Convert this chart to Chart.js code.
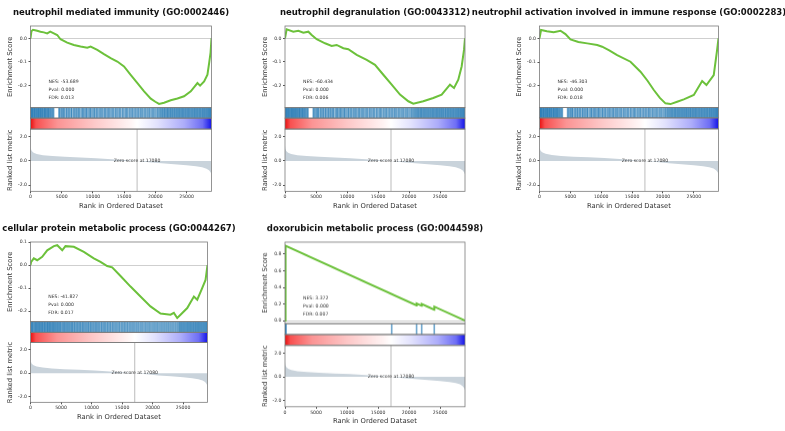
<!DOCTYPE html>
<html>
<head>
<meta charset="utf-8">
<script src="https://cdn.jsdelivr.net/npm/chart.js@4.4.1/dist/chart.umd.min.js"></script>
<style>
html, body { margin: 0; padding: 0; background: #fff; overflow: hidden; width: 785px; height: 431px; }
.panel { position: absolute; }
</style>
</head>
<body>
<div id="p1" class="panel"><canvas></canvas></div>
<div id="p2" class="panel"><canvas></canvas></div>
<div id="p3" class="panel"><canvas></canvas></div>
<div id="p4" class="panel"><canvas></canvas></div>
<div id="p5" class="panel"><canvas></canvas></div>
<script>
// ranked list shared by all five gene sets
const N = 29000;
const zeroScore = 17080;
const xTicks = [0, 5000, 10000, 15000, 20000, 25000];
const rankTicks = [-2, 0, 2];
const rankX = [0, 60, 200, 500, 1000, 2000, 3500, 5500, 8000, 10500, 13000, 15000, 17080, 19000, 21000, 23000, 25000, 26500, 27500, 28200, 28600, 28850, 29000];
const rankY = [1.3, 1.0, 0.82, 0.68, 0.58, 0.48, 0.41, 0.35, 0.29, 0.23, 0.15, 0.08, 0, -0.1, -0.19, -0.27, -0.35, -0.43, -0.52, -0.63, -0.76, -0.92, -1.1];

const titles = [
  'neutrophil mediated immunity (GO:0002446)',
  'neutrophil degranulation (GO:0043312)',
  'neutrophil activation involved in immune response (GO:0002283)',
  'cellular protein metabolic process (GO:0044267)',
  'doxorubicin metabolic process (GO:0044598)'
];
const nesValues = ['-53.689', '-60.434', '-46.303', '-41.827', '3.372'];
const pvalValues = [0.000, 0.000, 0.000, 0.000, 0.000];
const fdrValues = [0.013, 0.006, 0.018, 0.017, 0.007];

// running enrichment scores
const es1X = [0, 150, 400, 1070, 1600, 2140, 2680, 3160, 3740, 4280, 4810, 5880, 6950, 8020, 9100, 9630, 10700, 11770, 12840, 13910, 14980, 16050, 17130, 18200, 19270, 20000, 20600, 21400, 22470, 23540, 24600, 25680, 26750, 27170, 27820, 28350, 28620, 28850, 29000];
const es1Y = [0, 0.03, 0.036, 0.032, 0.028, 0.025, 0.021, 0.028, 0.021, 0.014, -0.004, -0.018, -0.028, -0.035, -0.04, -0.035, -0.049, -0.067, -0.084, -0.098, -0.119, -0.154, -0.189, -0.224, -0.255, -0.268, -0.277, -0.272, -0.262, -0.254, -0.245, -0.224, -0.189, -0.2, -0.182, -0.154, -0.105, -0.06, 0];

const es2X = [0, 270, 1340, 2150, 2960, 3760, 4300, 5100, 6450, 7520, 8320, 9400, 10200, 11550, 13160, 14500, 15840, 17190, 18530, 19870, 20670, 22280, 23890, 25240, 26580, 27230, 27920, 28460, 28840, 29000];
const es2Y = [0, 0.038, 0.028, 0.032, 0.024, 0.028, 0.014, -0.004, -0.021, -0.032, -0.028, -0.042, -0.046, -0.07, -0.091, -0.112, -0.154, -0.196, -0.238, -0.266, -0.276, -0.266, -0.252, -0.238, -0.196, -0.21, -0.175, -0.119, -0.049, 0];

const es3X = [0, 250, 1200, 2300, 3400, 4200, 5020, 6300, 7730, 9350, 10150, 11300, 12580, 14740, 16360, 17500, 18520, 19500, 20410, 21220, 22300, 23380, 25000, 26350, 27050, 28230, 28770, 29000];
const es3Y = [0, 0.035, 0.03, 0.026, 0.032, 0.018, -0.004, -0.015, -0.021, -0.028, -0.035, -0.05, -0.07, -0.098, -0.14, -0.178, -0.217, -0.25, -0.273, -0.276, -0.266, -0.256, -0.238, -0.179, -0.196, -0.154, -0.049, 0];

const es4X = [0, 110, 540, 1100, 1920, 2740, 3830, 4380, 5200, 5730, 7100, 8740, 10370, 11470, 12560, 13380, 14750, 16390, 18020, 19660, 21300, 22940, 23490, 24040, 24580, 25680, 26770, 27320, 28130, 28680, 29000];
const es4Y = [0, 0.014, 0.029, 0.021, 0.036, 0.064, 0.082, 0.086, 0.064, 0.082, 0.079, 0.057, 0.029, 0.014, -0.004, -0.01, -0.047, -0.093, -0.136, -0.179, -0.21, -0.215, -0.207, -0.229, -0.215, -0.186, -0.136, -0.15, -0.1, -0.064, 0];

const es5X = [0, 30, 90, 150, 21200, 21210, 22020, 22030, 24050, 24060, 29000];
const es5Y = [0, 0.3, 0.6, 0.9, 0.182, 0.205, 0.178, 0.2, 0.132, 0.168, 0];

// gene hit positions in the ranked list
const neutrophilHits = [40, 120, 260, 330, 480, 610, 700, 860, 990, 1100, 1250, 1330, 1490, 1620, 1700, 1880, 1960, 2140, 2290, 2350, 2530, 2660, 2820, 2900, 3080, 3220, 3380, 3560, 3700,
  4560, 4700, 4930, 5100, 5290, 5420, 5700, 5850, 6090, 6240, 6500, 6620, 6900, 7050, 7280, 7460, 7700, 7820, 8100, 8340, 8450, 8700, 8910, 9050, 9300, 9520, 9660, 9900, 10150, 10300, 10560, 10720, 10980, 11200, 11380, 11600, 11870, 12000, 12260, 12480, 12650, 12900, 13140, 13300, 13580, 13760, 14000, 14250, 14410, 14700, 14880, 15150, 15360, 15520, 15800, 16010, 16250, 16430, 16700, 16900, 17150, 17340, 17600, 17780, 18000, 18260, 18450, 18700, 18930, 19120, 19380, 19600, 19800, 20050, 20300, 20480, 20700, 20860, 21050, 21200, 21390, 21520, 21700, 21880, 22000, 22170, 22350, 22480, 22660, 22800, 22990, 23120, 23300, 23450, 23610, 23780, 23900, 24080, 24230, 24400, 24520, 24700, 24850, 25000, 25180, 25300, 25470, 25610, 25800, 25920, 26100, 26250, 26380, 26560, 26700, 26850, 27020, 27160, 27300, 27480, 27600, 27770, 27900, 28050, 28200, 28330, 28480, 28600, 28740, 28850, 28960];
const proteinHits = [60, 180, 300, 420, 610, 760, 900, 1010, 1190, 1300, 1480, 1570, 1760, 1900, 2010, 2200, 2330, 2450, 2640, 2780, 2870, 3050, 3190, 3300, 3490, 3620, 3780, 3900, 4080, 4210, 4400, 4520, 4700, 4860, 5010, 5230, 5380, 5560, 5700, 5920, 6050, 6260, 6400, 6610, 6780, 6930, 7150, 7300, 7520, 7690, 7860, 8080, 8220, 8450, 8610, 8800, 9020, 9180, 9400, 9560, 9790, 9950, 10170, 10340, 10560, 10740, 10930, 11150, 11310, 11560, 11720, 11950, 12130, 12320, 12560, 12740, 12980, 13150, 13400, 13570, 13800, 14010, 14220, 14450, 14640, 14900, 15080, 15320, 15510, 15760, 15950, 16200, 16400, 16630, 16850, 17060, 17300, 17520, 17740, 17990, 18210, 18430, 18680, 18900, 19130, 19370, 19580, 19820, 20060, 20280, 20510, 20740, 20950, 21200, 21430, 21650, 21880, 22100, 22330, 22560, 22780, 23010, 23240, 23460, 23700, 23930, 24150, 24360, 24520, 24690, 24850, 25030, 25180, 25360, 25520, 25690, 25830, 26010, 26160, 26320, 26480, 26650, 26790, 26960, 27100, 27260, 27420, 27570, 27720, 27880, 28030, 28190, 28340, 28490, 28640, 28790, 28920];
const doxHits = [30, 90, 150, 17190, 21200, 22020, 24050];

// axis limits and ticks of the enrichment score plots
const esTicksNeg = [-0.2, -0.1, 0];
const esTicks4 = [-0.2, -0.1, 0, 0.1];
const esTicks5 = [0, 0.2, 0.4, 0.6, 0.8];
const esRanges = [[-0.293, 0.052], [-0.293, 0.052], [-0.29, 0.052], [-0.245, 0.1], [-0.036, 0.944]];
const rankRange = [-2.5, 2.63];

Chart.defaults.font.family = '"DejaVu Sans", sans-serif';
Chart.defaults.color = '#333';

const cbStops = [[0, 'rgb(232,16,16)'], [0.03, 'rgb(248,80,80)'], [0.15, 'rgb(251,148,148)'], [0.35, 'rgb(253,200,200)'], [0.55, 'rgb(255,244,244)'], [zeroScore / N, '#ffffff'], [0.7, 'rgb(226,226,253)'], [0.85, 'rgb(172,172,250)'], [0.95, 'rgb(110,110,245)'], [1, 'rgb(20,20,232)']];

function cbGradient(ctx) {
  const chart = ctx.chart;
  const area = chart.chartArea;
  if (!area) return 'rgba(0,0,0,0)';
  const g = chart.ctx.createLinearGradient(area.left, 0, area.right, 0);
  cbStops.forEach(s => g.addColorStop(s[0], s[1]));
  return g;
}

const gseaDecor = {
  id: 'gseaDecor',
  afterDatasetsDraw(chart, args, opts) {
    const c = chart.ctx, a = chart.chartArea, sc = chart.scales;
    c.save();
    // panel title, centred over the plot
    c.fillStyle = '#111';
    c.font = 'bold 8.5px "DejaVu Sans"';
    c.textAlign = 'center';
    c.textBaseline = 'middle';
    c.fillText(opts.title, (a.left + a.right) / 2, 13);
    c.fillStyle = '#333';
    c.font = '4.6px "DejaVu Sans"';
    c.fillText('Zero score at ' + zeroScore, sc.x.getPixelForValue(zeroScore), sc.yRank.getPixelForValue(0));
    const es = sc.yEs, h = es.bottom - es.top, tx = a.left + 0.1 * a.width;
    c.textAlign = 'left';
    c.textBaseline = 'alphabetic';
    c.fillText('NES: ' + opts.nes, tx, es.bottom - 0.3 * h);
    c.fillText('Pval: ' + opts.pval.toFixed(3), tx, es.bottom - 0.2 * h);
    c.fillText('FDR: ' + opts.fdr.toFixed(3), tx, es.bottom - 0.1 * h);
    c.strokeStyle = '#7a7a7a';
    c.lineWidth = 0.8;
    ['yEs', 'yHit', 'yCb', 'yRank'].forEach(id => {
      const s = sc[id];
      c.strokeRect(a.left, s.top, a.width, s.bottom - s.top);
    });
    c.restore();
  }
};

const panels = [
  {id: 'p1', left: 30, right: 211, top: 0, height: 210, weights: [82, 10.5, 11, 62.5], esX: es1X, esY: es1Y, esTicks: esTicksNeg, hits: neutrophilHits},
  {id: 'p2', left: 285, right: 465, top: 0, height: 210, weights: [82, 10.5, 11, 62.5], esX: es2X, esY: es2Y, esTicks: esTicksNeg, hits: neutrophilHits},
  {id: 'p3', left: 539, right: 718, top: 0, height: 210, weights: [81.5, 10.5, 11, 62.5], esX: es3X, esY: es3Y, esTicks: esTicksNeg, hits: neutrophilHits},
  {id: 'p4', left: 30, right: 207, top: 216, height: 205, weights: [80, 10.7, 10.3, 60], esX: es4X, esY: es4Y, esTicks: esTicks4, hits: proteinHits},
  {id: 'p5', left: 285, right: 465, top: 216, height: 208.5, weights: [82, 11, 11, 61.7], esX: es5X, esY: es5Y, esTicks: esTicks5, hits: doxHits}
];

const W = 340;
const tickFont = {size: 4.6};
const axisTitleFont = {size: 6.8};

panels.forEach((p, i) => {
  const div = document.getElementById(p.id);
  const canvasLeft = (p.left + p.right) / 2 - W / 2;
  div.style.left = canvasLeft + 'px';
  div.style.top = p.top + 'px';
  div.style.width = W + 'px';
  div.style.height = p.height + 'px';

  new Chart(div.querySelector('canvas'), {
    type: 'line',
    data: {
      datasets: [
        {type: 'line', data: p.esX.map((x, k) => ({x: x, y: p.esY[k]})), yAxisID: 'yEs',
         borderColor: '#6cc13b', borderWidth: 2, pointRadius: 0, fill: false},
        {type: 'bar', data: p.hits.map(x => ({x: x, y: 1})), yAxisID: 'yHit',
         backgroundColor: 'rgba(22,112,175,0.6)', barThickness: 1, borderWidth: 0},
        {type: 'line', data: [{x: 0, y: 1}, {x: N, y: 1}], yAxisID: 'yCb',
         fill: 'origin', backgroundColor: cbGradient, borderWidth: 0, pointRadius: 0},
        {type: 'line', data: rankX.map((x, k) => ({x: x, y: rankY[k]})), yAxisID: 'yRank',
         fill: 'origin', backgroundColor: '#c9d3db', borderWidth: 0, pointRadius: 0},
        {type: 'line', data: [{x: zeroScore, y: rankRange[0]}, {x: zeroScore, y: rankRange[1]}], yAxisID: 'yRank',
         borderColor: 'rgba(150,150,150,0.8)', borderWidth: 0.8, pointRadius: 0}
      ]
    },
    options: {
      responsive: true,
      maintainAspectRatio: false,
      animation: false,
      layout: {padding: {left: p.left - 30 - canvasLeft, right: canvasLeft + W - p.right, top: 26, bottom: 0}},
      plugins: {
        legend: {display: false},
        tooltip: {enabled: false},
        title: {display: false},
        gseaDecor: {title: titles[i], nes: nesValues[i], pval: pvalValues[i], fdr: fdrValues[i]}
      },
      scales: {
        x: {
          type: 'linear', min: 0, max: N, offset: false,
          afterBuildTicks: s => { s.ticks = xTicks.map(v => ({value: v})); },
          ticks: {font: tickFont, padding: 1, maxRotation: 0, autoSkip: false, callback: v => String(v)},
          grid: {offset: false, drawOnChartArea: false, drawTicks: true, tickLength: 2, tickColor: '#555'},
          border: {display: false},
          title: {display: true, text: 'Rank in Ordered Dataset', font: axisTitleFont, padding: {top: 1, bottom: 0}}
        },
        yEs: {
          type: 'linear', position: 'left', stack: 'gsea', stackWeight: p.weights[0], weight: 4,
          min: esRanges[i][0], max: esRanges[i][1],
          afterBuildTicks: s => { s.ticks = p.esTicks.map(v => ({value: v})); },
          afterFit: s => { s.width = 30; },
          ticks: {font: tickFont, padding: 1.5, autoSkip: false, callback: v => v.toFixed(1)},
          grid: {color: ctx => (ctx.tick && ctx.tick.value === 0) ? '#cfcfcf' : 'rgba(0,0,0,0)',
                 tickColor: '#555', tickLength: 2},
          border: {display: false},
          title: {display: true, text: 'Enrichment Score', font: axisTitleFont, padding: {top: 6, bottom: 0}}
        },
        yHit: {
          type: 'linear', position: 'left', stack: 'gsea', stackWeight: p.weights[1], weight: 3,
          min: 0, max: 1, ticks: {display: false}, grid: {display: false}, border: {display: false}
        },
        yCb: {
          type: 'linear', position: 'left', stack: 'gsea', stackWeight: p.weights[2], weight: 2,
          min: 0, max: 1, ticks: {display: false}, grid: {display: false}, border: {display: false}
        },
        yRank: {
          type: 'linear', position: 'left', stack: 'gsea', stackWeight: p.weights[3], weight: 1,
          min: rankRange[0], max: rankRange[1],
          afterBuildTicks: s => { s.ticks = rankTicks.map(v => ({value: v})); },
          afterFit: s => { s.width = 30; },
          ticks: {font: tickFont, padding: 1.5, autoSkip: false, callback: v => v.toFixed(1)},
          grid: {drawOnChartArea: false, tickColor: '#555', tickLength: 2},
          border: {display: false},
          title: {display: true, text: 'Ranked list metric', font: axisTitleFont, padding: {top: 6, bottom: 0}}
        }
      }
    },
    plugins: [gseaDecor]
  });
});
</script>
</body>
</html>
